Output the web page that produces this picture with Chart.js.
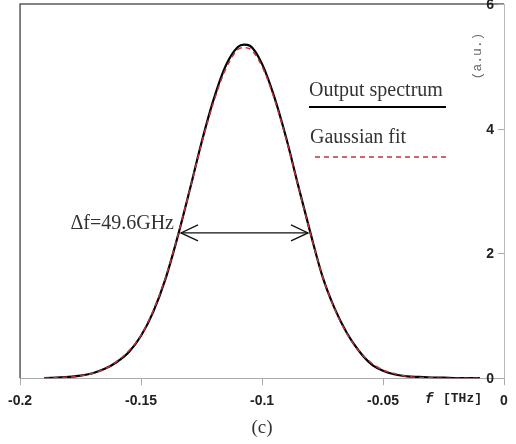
<!DOCTYPE html>
<html>
<head>
<meta charset="utf-8">
<script src="https://cdn.jsdelivr.net/npm/chart.js@4/dist/chart.umd.min.js"></script>
<style>
html,body{margin:0;padding:0;background:#fff;}
#wrap{width:516px;height:444px;position:relative;}
</style>
</head>
<body>
<div id="wrap"><canvas id="c" width="516" height="444"></canvas></div>
<script>
// ---- data ----
const freqTHz = [-0.19,-0.185,-0.18,-0.175,-0.17,-0.165,-0.16,-0.155,-0.15,-0.145,-0.14,-0.135,-0.13,-0.125,-0.12,-0.115,-0.11,-0.1075,-0.105,-0.1,-0.095,-0.09,-0.085,-0.08,-0.075,-0.07,-0.065,-0.06,-0.055,-0.05,-0.045,-0.04,-0.035,-0.03,-0.025,-0.02,-0.015,-0.01];
const outputSpectrum = [0.00,0.01,0.02,0.04,0.08,0.15,0.26,0.42,0.68,1.06,1.58,2.25,3.00,3.78,4.47,5.01,5.31,5.35,5.33,5.04,4.52,3.85,3.08,2.33,1.63,1.12,0.73,0.44,0.23,0.12,0.06,0.03,0.02,0.01,0.01,0.00,0.00,0.00];
const gaussianFit = [0.00,0.01,0.02,0.04,0.08,0.15,0.27,0.44,0.69,1.08,1.60,2.26,3.00,3.76,4.43,4.96,5.27,5.30,5.28,5.00,4.49,3.83,3.07,2.32,1.63,1.11,0.72,0.44,0.25,0.13,0.07,0.03,0.01,0.01,0.00,0.00,0.00,0.00];
const xTicks = [-0.2,-0.15,-0.1,-0.05,0];
const yTicks = [0,2,4,6];
const seriesNames = ['Output spectrum','Gaussian fit'];
const fwhmLabel = '\u0394f=49.6GHz';
const fwhmArrow = {from:-0.1335, to:-0.0810, level:2.33};
const yTitle = '(a.u.)';
const xTitleItalic = 'f';
const xTitleRest = '[THz]';
const caption = '(c)';

const toXY = (xs, ys) => xs.map((x,i)=>({x:x, y:ys[i]}));
const tickFont = 'bold 14px "Liberation Sans", Arial, sans-serif';

const decor = {
  id:'decor',
  afterDraw(chart){
    const ctx = chart.ctx, a = chart.chartArea;
    const xs = chart.scales.x, ys = chart.scales.y;
    ctx.save();
    // top and left frame
    ctx.strokeStyle = '#5c5c5c'; ctx.lineWidth = 1.5;
    ctx.beginPath();
    ctx.moveTo(a.left, a.bottom); ctx.lineTo(a.left, a.top); ctx.lineTo(a.right, a.top);
    ctx.stroke();
    // y tick marks and labels (inside, left of the right axis)
    ctx.strokeStyle = '#aaa'; ctx.lineWidth = 1;
    ctx.font = tickFont; ctx.fillStyle = '#222'; ctx.textAlign = 'right'; ctx.textBaseline = 'middle';
    yTicks.forEach(v=>{
      const yp = ys.getPixelForValue(v);
      const y = Math.round(yp)+0.5;
      ctx.beginPath(); ctx.moveTo(a.right-6, y); ctx.lineTo(a.right, y); ctx.stroke();
      ctx.fillText(String(v), a.right-10, yp+1);
    });
    // legend
    ctx.fillStyle = '#333';
    ctx.font = '20px "Liberation Serif", "Times New Roman", serif';
    ctx.textAlign = 'left'; ctx.textBaseline = 'alphabetic';
    ctx.fillText(seriesNames[0], 309, 96);
    ctx.strokeStyle = '#000'; ctx.lineWidth = 2;
    ctx.beginPath(); ctx.moveTo(309, 107); ctx.lineTo(446, 107); ctx.stroke();
    ctx.fillText(seriesNames[1], 310, 143);
    ctx.strokeStyle = '#c0303a'; ctx.lineWidth = 1.5; ctx.setLineDash([5,4]);
    ctx.beginPath(); ctx.moveTo(315, 157); ctx.lineTo(447, 157); ctx.stroke();
    ctx.setLineDash([]);
    // FWHM annotation
    const ay = ys.getPixelForValue(fwhmArrow.level);
    const ax1 = xs.getPixelForValue(fwhmArrow.from), ax2 = xs.getPixelForValue(fwhmArrow.to);
    ctx.strokeStyle = '#111'; ctx.lineWidth = 1.3;
    ctx.beginPath(); ctx.moveTo(ax1, ay); ctx.lineTo(ax2, ay); ctx.stroke();
    ctx.beginPath();
    ctx.moveTo(ax1+17, ay-8); ctx.lineTo(ax1, ay); ctx.lineTo(ax1+17, ay+8);
    ctx.moveTo(ax2-17, ay-8); ctx.lineTo(ax2, ay); ctx.lineTo(ax2-17, ay+8);
    ctx.stroke();
    ctx.fillStyle = '#333';
    ctx.font = '20px "Liberation Serif", "Times New Roman", serif';
    ctx.textAlign = 'right';
    ctx.fillText(fwhmLabel, ax1-7, ay-4);
    // y title
    ctx.save();
    ctx.translate(478, 56); ctx.rotate(-Math.PI/2);
    ctx.font = '13px "Liberation Mono", "DejaVu Sans Mono", monospace';
    ctx.fillStyle = '#666'; ctx.textAlign = 'center'; ctx.textBaseline = 'middle';
    ctx.fillText(yTitle, 0, 0);
    ctx.restore();
    // x title
    ctx.fillStyle = '#222'; ctx.textBaseline = 'middle'; ctx.textAlign = 'left';
    ctx.font = 'italic bold 14px "Liberation Mono", monospace';
    ctx.fillText(xTitleItalic, 425, 399);
    ctx.font = 'bold 13px "Liberation Mono", monospace';
    ctx.fillText(xTitleRest, 443, 399);
    // caption
    ctx.fillStyle = '#333'; ctx.textAlign = 'center';
    ctx.font = '19px "Liberation Serif", "Times New Roman", serif';
    ctx.fillText(caption, xs.getPixelForValue(-0.1), 428);
    ctx.restore();
  }
};

new Chart(document.getElementById('c'), {
  type: 'line',
  data: {
    datasets: [
      {label: seriesNames[1], data: toXY(freqTHz, gaussianFit), borderColor:'#c0303a', borderWidth:1.5, borderDash:[5,4], pointRadius:0, cubicInterpolationMode:'monotone', fill:false},
      {label: seriesNames[0], data: toXY(freqTHz, outputSpectrum), borderColor:'#000', borderWidth:2.2, pointRadius:0, cubicInterpolationMode:'monotone', fill:false}
    ]
  },
  options: {
    responsive:false, animation:false,
    layout:{padding:{left:20, top:4, right:12, bottom:26}},
    plugins:{legend:{display:false}, tooltip:{enabled:false}},
    scales:{
      x:{type:'linear', min:-0.2, max:0,
         afterBuildTicks(s){ s.ticks = xTicks.map(v=>({value:v})); },
         ticks:{font:{family:'"Liberation Sans", Arial, sans-serif', size:14, weight:'bold'}, color:'#222', padding:8, maxRotation:0,
                callback:(v)=> String(v)},
         grid:{display:true, drawOnChartArea:false, drawTicks:true, tickLength:7, color:'#aaa'},
         border:{display:true, color:'#aaa', width:1}},
      y:{type:'linear', position:'right', min:0, max:6,
         afterBuildTicks(s){ s.ticks = yTicks.map(v=>({value:v})); },
         ticks:{display:false},
         grid:{display:false, drawTicks:false},
         border:{display:true, color:'#bbb', width:1}}
    }
  },
  plugins:[decor]
});
</script>
</body>
</html>
